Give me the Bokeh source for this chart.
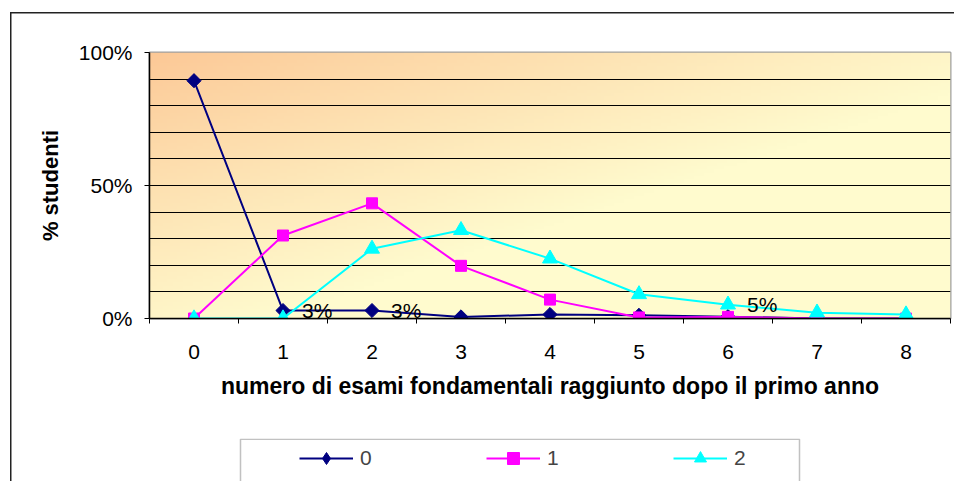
import numpy as np
from bokeh.plotting import figure
from bokeh.layouts import column
from bokeh.models import (FixedTicker, PrintfTickFormatter, Range1d, Legend,
                          LegendItem, BoxAnnotation)
from bokeh.core.properties import value
from bokeh.embed import file_html
from bokeh.resources import INLINE

# ---------------- data ----------------
categories = [0, 1, 2, 3, 4, 5, 6, 7, 8]
series_names = ["0", "1", "2"]
s0 = [89.4, 3.0, 3.0, 0.6, 1.5, 1.2, 0.7, 0.0, 0.0]
s1 = [0.0, 31.2, 43.3, 19.8, 7.1, 0.4, 0.6, 0.0, 0.0]
s2 = [0.0, 0.0, 26.2, 33.2, 22.5, 9.1, 5.2, 2.2, 1.5]
y_ticks = [0, 50, 100]
grid_step = 10
labelled_points = [(0, 1), (0, 2), (2, 6)]  # (series index, category index)
x_title = "numero di esami fondamentali raggiunto dopo il primo anno"
y_title = "% studenti"

series = [s0, s1, s2]
colors = ["#000080", "#ff00ff", "#00ffff"]
markers = [dict(marker="square", angle=np.pi / 4, size=10),
           dict(marker="square", angle=0, size=11),
           dict(marker="triangle", angle=0, size=15)]
legend_markers = ["diamond", "square", "triangle"]

FONT = "Liberation Sans"
W = 954
H1, H2 = 438, 43          # chart part and legend strip
FL, FR = 149, 4           # left / right borders shared by both parts
x0, x1 = categories[0] - 0.5, categories[-1] + 0.5
y0, y1 = y_ticks[0], y_ticks[-1]

# ======================= main chart =======================
p = figure(width=W, height=H1, output_backend="svg", toolbar_location=None,
           x_range=Range1d(x0, x1), y_range=Range1d(y0, y1),
           min_border_left=FL, min_border_right=FR, min_border_top=52,
           min_border_bottom=120)
p.border_fill_alpha = 0
p.outline_line_color = "#a0a0a0"
p.outline_line_width = 2

# gradient background of the plot area
ny, nx = 80, 240
u = np.linspace(0, 1, nx)[None, :]
vt = 1 - np.linspace(0, 1, ny)[:, None]  # distance from top
t = np.clip((u + vt) / 1.15, 0, 1) ** 0.9
c_a = np.array([252, 200, 150], dtype=float)
c_b = np.array([255, 251, 206], dtype=float)
img = np.empty((ny, nx), dtype=np.uint32)
view = img.view(dtype=np.uint8).reshape((ny, nx, 4))
for k in range(3):
    view[:, :, k] = (c_a[k] * (1 - t) + c_b[k] * t).astype(np.uint8)
view[:, :, 3] = 255
p.image_rgba(image=[img], x=x0, y=y0, dw=x1 - x0, dh=y1 - y0, level="image")

# grid
p.xgrid.visible = False
p.ygrid.ticker = FixedTicker(ticks=list(range(y0 + grid_step, y1, grid_step)))
p.ygrid.grid_line_color = "black"
p.ygrid.grid_line_width = 1

# axes
p.yaxis.ticker = FixedTicker(ticks=y_ticks, minor_ticks=[])
p.yaxis.formatter = PrintfTickFormatter(format="%d%%")
p.xaxis.ticker = FixedTicker(ticks=categories,
                             minor_ticks=[c - 0.5 for c in categories] + [categories[-1] + 0.5])
for ax in (p.xaxis[0], p.yaxis[0]):
    ax.axis_line_color = "black"
    ax.axis_line_width = 1.5
    ax.major_label_text_font = FONT
    ax.major_label_text_font_size = "21px"
    ax.major_label_text_color = "black"
    ax.axis_label_text_font = FONT
    ax.axis_label_text_font_style = "bold"
    ax.axis_label_text_color = "black"
p.yaxis.axis_label_text_font_size = "22px"
p.xaxis.axis_label_text_font_size = "23px"
p.yaxis.major_tick_out = 5
p.yaxis.major_tick_in = 0
p.yaxis.major_tick_line_color = "black"
p.yaxis.major_label_standoff = 12
p.yaxis.axis_label = y_title
p.yaxis.axis_label_standoff = 13
p.xaxis.major_tick_out = 0
p.xaxis.major_tick_in = 0
p.xaxis.minor_tick_out = 5
p.xaxis.minor_tick_in = 0
p.xaxis.minor_tick_line_color = "black"
p.xaxis.major_label_standoff = 21
p.xaxis.axis_label = x_title
p.xaxis.axis_label_standoff = 11

# series
for vals, col, mk in zip(series, colors, markers):
    p.line(categories, vals, line_color=col, line_width=2)
    p.scatter(categories, vals, marker=mk["marker"], angle=mk["angle"],
              size=mk["size"], fill_color=col, line_color=col)

# data labels
lx = [categories[c] for s, c in labelled_points]
ly = [series[s][c] for s, c in labelled_points]
lt = [f"{round(series[s][c])}%" for s, c in labelled_points]
p.text(x=lx, y=ly, text=lt, x_offset=19, text_baseline="middle", text_align="left",
       text_font=value(FONT), text_font_size="21px", text_color="black")

# outer chart border (left/top edges; right/bottom lie outside the picture)
p.styles = {"box-shadow": "inset 10px 12px 0 0 white, inset 11.5px 13.5px 0 0 #222222"}

# ======================= legend strip =======================
# its frame spans the same horizontal extent as the chart frame; the x range is
# expressed in canvas pixels so that the legend box can be placed directly
q = figure(width=W, height=H2, output_backend="svg", toolbar_location=None,
           x_range=Range1d(FL, W - FR), y_range=Range1d(0, H2),
           x_axis_location=None, y_axis_location=None,
           min_border_left=FL, min_border_right=FR, min_border_top=0,
           min_border_bottom=0)
q.border_fill_alpha = 0
q.background_fill_alpha = 0
q.outline_line_alpha = 0
q.grid.visible = False

items = []
for name, col, lm in zip(series_names, colors, legend_markers):
    rl = q.line(x=[np.nan], y=[np.nan], line_color=col, line_width=2)
    rm = q.scatter(x=[np.nan], y=[np.nan], marker=lm, size=10,
                   fill_color=col, line_color=col)
    items.append(LegendItem(label=name, renderers=[rl, rm]))

legend = Legend(items=items, location=(299 - FL, 8), orientation="horizontal",
                glyph_width=54, glyph_height=30, label_standoff=7, spacing=106,
                padding=0, margin=0, border_line_alpha=0, background_fill_alpha=0,
                label_text_font=FONT, label_text_font_size="21px",
                label_height=30, label_width=20)
q.add_layout(legend)

# legend box (its bottom edge lies below the picture)
q.add_layout(BoxAnnotation(left=240, right=799, top=H2 - 0.75, bottom=-40,
                           fill_alpha=0, line_color="#333333", line_width=1.5))
# left edge of the outer chart border continues down
q.styles = {"box-shadow": "inset 10px 0 0 0 white, inset 11.5px 0 0 0 #222222"}

layout = column(p, q, spacing=0)
open("out.html", "w").write(file_html(layout, INLINE))
